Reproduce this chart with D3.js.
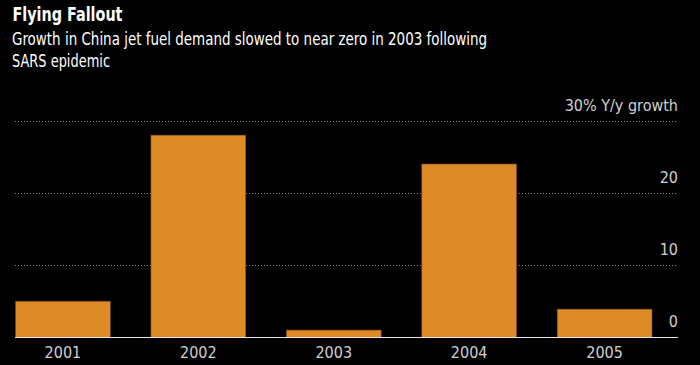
<!DOCTYPE html>
<html><head><meta charset="utf-8">
<script src="https://cdn.jsdelivr.net/npm/d3@7"></script>
<style>
html,body{margin:0;padding:0;background:#000;}
svg{display:block;}
text{font-family:"DejaVu Sans Condensed","DejaVu Sans",sans-serif;font-stretch:condensed;}
</style></head>
<body><svg id="c" width="700" height="365"></svg>
<script>
const categories = ["2001","2002","2003","2004","2005"];
const values = [5.0, 28.0, 1.0, 24.0, 3.9];
const tickValues = [0, 10, 20, 30];
const tickLabels = ["0", "10", "20", "30% Y/y growth"];
const title = "Flying Fallout";
const subtitleLines = ["Growth in China jet fuel demand slowed to near zero in 2003 following", "SARS epidemic"];

const svg = d3.select("#c");
svg.append("rect").attr("width",700).attr("height",365).attr("fill","#000");

const x = d3.scaleBand().domain(categories).range([15.5, 652]).paddingInner(0.3).paddingOuter(0);
const y = d3.scaleLinear().domain([0,30]).range([337.3, 120.7]);

svg.append("text").attr("x",12.5).attr("y",21).attr("fill","#fff")
  .attr("font-size",20).attr("font-weight","bold")
  .attr("textLength",110).attr("lengthAdjust","spacingAndGlyphs").text(title);
const subLens = [475, 98];
subtitleLines.forEach((t,i)=>{
  svg.append("text").attr("x",12).attr("y",45+i*22).attr("fill","#fff")
    .attr("font-size",18).attr("textLength",subLens[i]).attr("lengthAdjust","spacingAndGlyphs").text(t);
});

// gridlines
svg.append("g").selectAll("line").data(tickValues.filter(d=>d>0)).join("line")
  .attr("x1",15).attr("x2",678).attr("y1",d=>Math.round(y(d))+0.5).attr("y2",d=>Math.round(y(d))+0.5)
  .attr("stroke","#8a8a8a").attr("stroke-width",1).attr("stroke-dasharray","1,2");

// tick labels
svg.append("g").selectAll("text").data(tickValues).join("text")
  .attr("x",678).attr("y",d=>y(d)-10).attr("text-anchor","end")
  .attr("fill","#d0d0d0").attr("font-size",16)
  .text((d,i)=>tickLabels[i]);

// bars
svg.append("g").selectAll("rect").data(values).join("rect")
  .attr("x",(d,i)=>x(categories[i])).attr("width",x.bandwidth())
  .attr("y",d=>y(d)).attr("height",d=>y(0)-y(d))
  .attr("fill","#de8a27").attr("stroke","#7a4a10").attr("stroke-width",0.6);

// baseline
svg.append("line").attr("x1",15).attr("x2",678).attr("y1",337.5).attr("y2",337.5)
  .attr("stroke","#e8e8e8").attr("stroke-width",1);

// x axis labels
svg.append("g").selectAll("text").data(categories).join("text")
  .attr("x",d=>x(d)+x.bandwidth()/2).attr("y",358).attr("text-anchor","middle")
  .attr("fill","#d0d0d0").attr("font-size",16).text(d=>d);
</script></body></html>
